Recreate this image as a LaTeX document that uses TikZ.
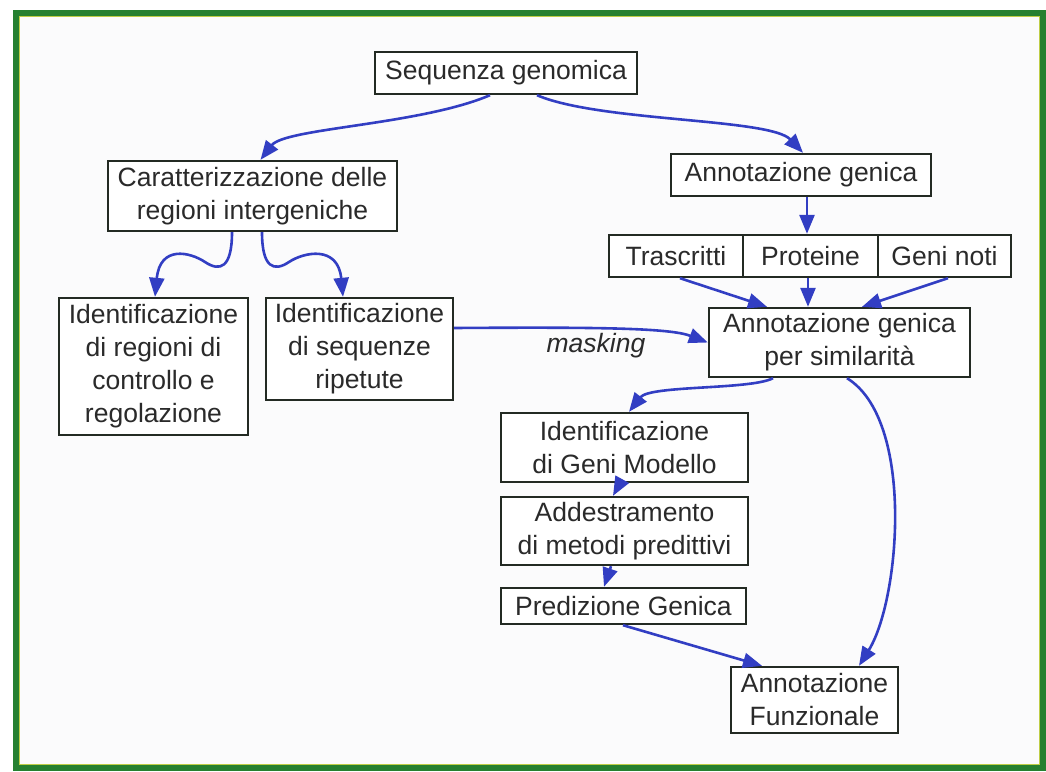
\documentclass[tikz,border=0pt]{standalone}
\usepackage{fontspec}
\setmainfont{Liberation Sans}
\usetikzlibrary{arrows.meta}
\definecolor{frameg}{RGB}{38,128,48}
\definecolor{framey}{RGB}{190,205,70}
\definecolor{arrb}{RGB}{50,62,195}
\definecolor{txt}{RGB}{42,42,42}
\definecolor{boxc}{RGB}{35,42,35}
\definecolor{bg}{RGB}{251,251,252}
\begin{document}
\begin{tikzpicture}[x=1pt,y=-1pt,
  box/.style={draw=boxc, line width=2.4pt, fill=white, text=txt, align=center,
    inner sep=0pt, font=\fontsize{26.5pt}{33pt}\selectfont},
  arr/.style={draw=arrb, line width=2.6pt, -{Triangle[length=19pt,width=15pt]}},
  lbl/.style={text=txt, inner sep=0pt, font=\itshape\fontsize{26.5pt}{33pt}\selectfont}]
\useasboundingbox (0,0) rectangle (1046,771);
\fill[white] (0,0) rectangle (1046,771);
\fill[bg] (16,13) rectangle (1043,767);
\draw[framey, line width=1pt] (19.5,16.5) rectangle (1039.5,764);
\draw[frameg, line width=6pt] (16,13) rectangle (1043,767.5);

% nodes
\node[box, minimum width=262pt, minimum height=42pt] (seq) at (506,73) {Sequenza genomica};
\node[box, minimum width=289pt, minimum height=70pt] (car) at (252.5,196) {Caratterizzazione delle\\regioni intergeniche};
\node[box, minimum width=189pt, minimum height=137pt] (reg) at (153.5,366.5) {Identificazione\\di regioni di\\controllo e\\regolazione};
\node[box, minimum width=187pt, minimum height=102pt] (rip) at (359.5,349) {Identificazione\\di sequenze\\ripetute};
\node[box, minimum width=260pt, minimum height=42pt] (ann) at (801,175) {Annotazione genica};
\node[box, minimum width=134pt, minimum height=42pt] (tra) at (676,256) {Trascritti};
\node[box, minimum width=135pt, minimum height=42pt] (pro) at (810.5,256) {Proteine};
\node[box, minimum width=133pt, minimum height=42pt] (gen) at (944.5,256) {Geni noti};
\node[box, minimum width=261pt, minimum height=69pt] (sim) at (839.5,342.5) {Annotazione genica\\per similarità};
\node[box, minimum width=247pt, minimum height=69pt] (mod) at (624.5,447.5) {Identificazione\\di Geni Modello};
\node[box, minimum width=247pt, minimum height=68pt] (add) at (624.5,531) {Addestramento\\di metodi predittivi};
\node[box, minimum width=245pt, minimum height=36pt] (pre) at (623.5,606) {Predizione Genica};
\node[box, minimum width=167pt, minimum height=66pt] (fun) at (814.5,700) {Annotazione\\Funzionale};
\node[lbl] (mask) at (596,346) {masking};

% connectors
\draw[arr] ([xshift=-16pt]seq.south) .. controls (420,125) and (285,128) .. ([xshift=8pt]car.north);
\draw[arr] ([xshift=31pt]seq.south) .. controls (600,122) and (770,118) .. ([xshift=2pt]ann.north);
\draw[arr] ([xshift=-20.5pt]car.south) .. controls (232,268) and (220,272) .. (205,262)
  .. controls (190,252) and (160,245) .. ([xshift=1.5pt]reg.north);
\draw[arr] ([xshift=9.5pt]car.south) .. controls (262,268) and (274,272) .. (289,262)
  .. controls (304,252) and (338,245) .. ([xshift=-16.5pt]rip.north);
\draw[arr] ([yshift=21pt]rip.east) .. controls (600,327) and (670,328) .. (sim.west);
\draw[arr] ([xshift=6pt]ann.south) -- ([xshift=-3.5pt]pro.north);
\draw[arr] ([xshift=4pt]tra.south) -- ([xshift=-72.5pt]sim.north);
\draw[arr] ([xshift=-2.5pt]pro.south) -- ([xshift=-31.5pt]sim.north);
\draw[arr] ([xshift=3.5pt]gen.south) -- ([xshift=22.5pt]sim.north);
\draw[arr] ([xshift=-66.5pt]sim.south) .. controls (750,390) and (650,385) .. ([xshift=4.5pt]mod.north);
\draw[arr] ([xshift=7.5pt]sim.south) .. controls (915,420) and (900,600) .. ([xshift=44.5pt]fun.north);
\draw[arr] ([xshift=-4.5pt]mod.south) -- ([xshift=-11.5pt]add.north);
\draw[arr] ([xshift=-13.5pt]add.south) -- ([xshift=-19.5pt]pre.north);
\draw[arr] ([xshift=-0.5pt]pre.south) -- ([xshift=-52.5pt]fun.north);
\end{tikzpicture}
\end{document}
